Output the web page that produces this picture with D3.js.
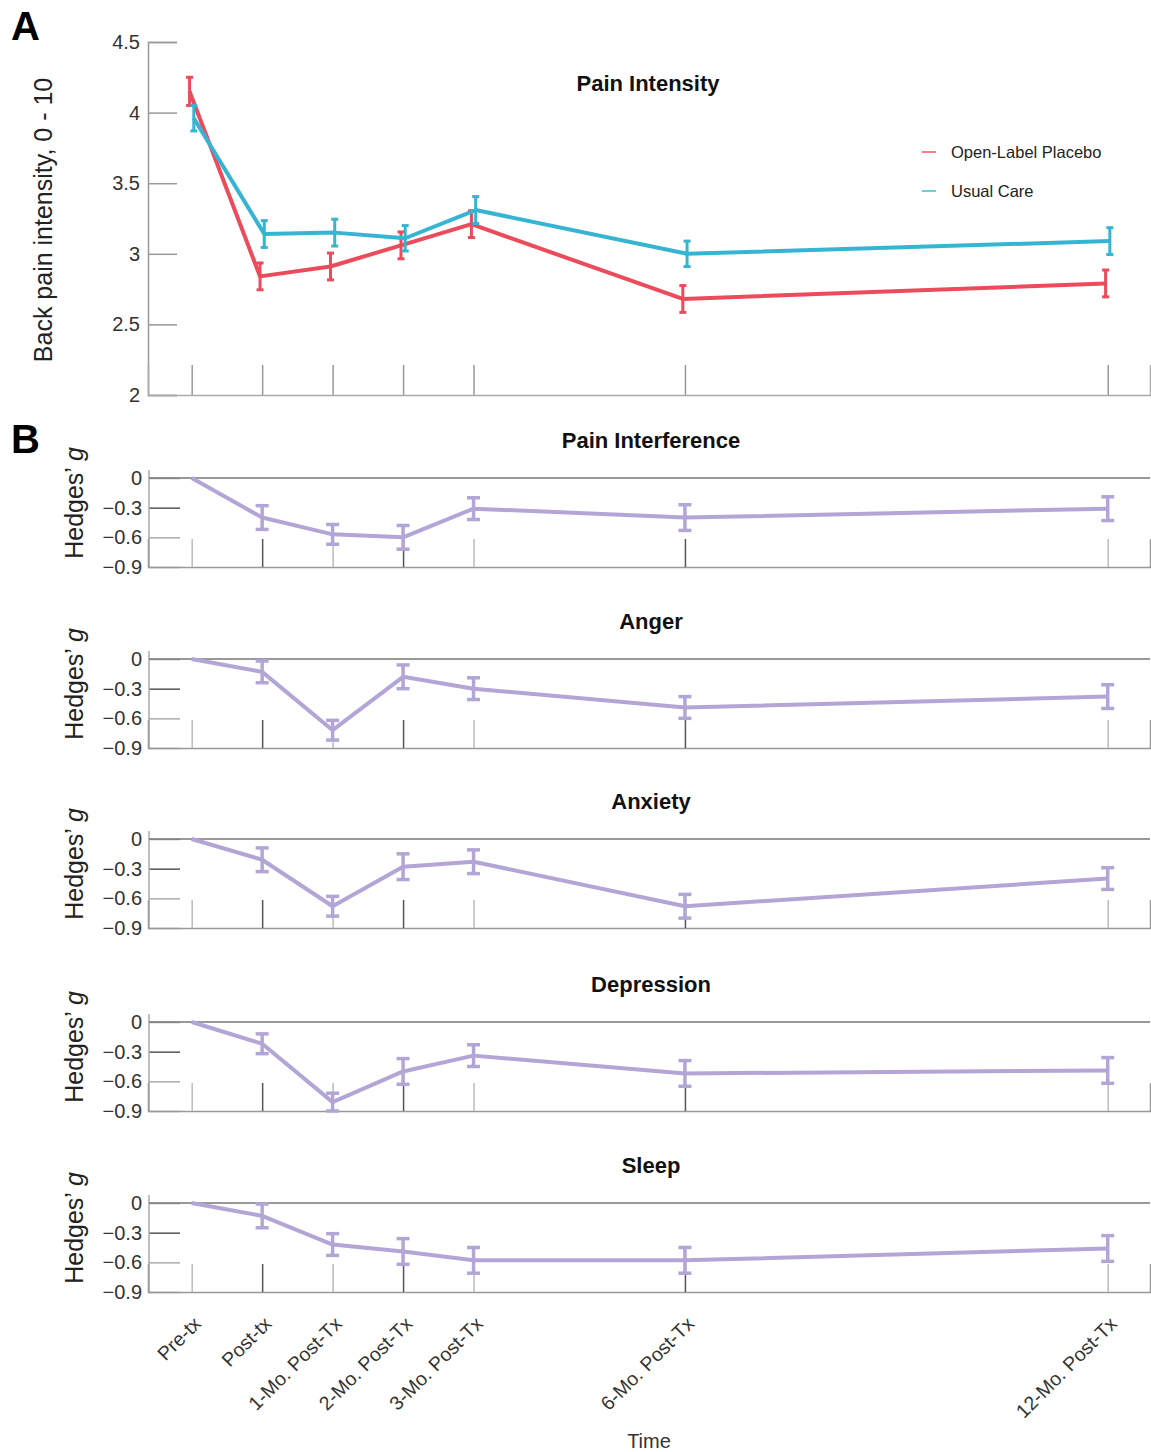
<!DOCTYPE html>
<html>
<head>
<meta charset="utf-8">
<title>Pain intensity and Hedges' g over time</title>
<script src="https://cdn.jsdelivr.net/npm/d3@7"></script>
<style>
  body { margin: 0; background: #fff; }
  svg text { font-family: "Liberation Sans", Arial, sans-serif; }
  .tick text { fill: #333; }
</style>
</head>
<body>
<svg id="chart" width="1151" height="1452"></svg>
<script>
// time points (x positions in "steps", matching the uneven spacing of the figure)
var timeLabels = ["Pre-tx", "Post-tx", "1-Mo. Post-Tx", "2-Mo. Post-Tx", "3-Mo. Post-Tx", "6-Mo. Post-Tx", "12-Mo. Post-Tx"];
var timePos = [0, 1, 2, 3, 4, 7, 13];

// panel A: back pain intensity
var seriesNames = ["Open-Label Placebo", "Usual Care"];
var olpMean = [4.15, 2.84, 2.91, 3.06, 3.21, 2.68, 2.79];
var olpErr = [0.10, 0.095, 0.095, 0.095, 0.095, 0.095, 0.095];
var ucMean = [3.96, 3.14, 3.15, 3.11, 3.31, 3.00, 3.09];
var ucErr = [0.09, 0.095, 0.095, 0.09, 0.095, 0.09, 0.095];
var painTicks = [2, 2.5, 3, 3.5, 4, 4.5];

// panel B: Hedges' g
var outcomeNames = ["Pain Interference", "Anger", "Anxiety", "Depression", "Sleep"];
var painInterference = [0, -0.40, -0.57, -0.60, -0.31, -0.40, -0.31];
var painInterferenceErr = [0, 0.12, 0.10, 0.12, 0.11, 0.13, 0.12];
var anger = [0, -0.13, -0.72, -0.18, -0.30, -0.49, -0.38];
var angerErr = [0, 0.11, 0.10, 0.12, 0.11, 0.11, 0.12];
var anxiety = [0, -0.21, -0.68, -0.28, -0.23, -0.68, -0.40];
var anxietyErr = [0, 0.12, 0.10, 0.13, 0.12, 0.12, 0.11];
var depression = [0, -0.22, -0.81, -0.50, -0.34, -0.52, -0.49];
var depressionErr = [0, 0.10, 0.09, 0.13, 0.11, 0.13, 0.13];
var sleep = [0, -0.13, -0.42, -0.49, -0.58, -0.58, -0.46];
var sleepErr = [0, 0.12, 0.11, 0.13, 0.13, 0.13, 0.13];
var gTicks = [0, -0.3, -0.6, -0.9];

var colors = ['#ec4b5c', '#36b5d2'];
var purple = '#b3a5d6';

var svg = d3.select('#chart');

var x = d3.scaleLinear().domain([-0.62, 13.6]).range([148, 1150]);

// ---------- panel A ----------
var yA = d3.scaleLinear().domain([2, 4.5]).range([395, 42]);

var gA = svg.append('g');

// y axis with inward ticks
var yAxisA = gA.append('g')
  .attr('transform', 'translate(148,0)')
  .call(d3.axisLeft(yA).tickValues(painTicks).tickSize(-29).tickPadding(8)
    .tickFormat(function(d) { return d3.format('')(d); }));
yAxisA.select('.domain').attr('stroke', '#999').attr('stroke-width', 1.5);
yAxisA.selectAll('.tick line').attr('stroke', '#999').attr('stroke-width', 1.5);
yAxisA.selectAll('.tick text').style('font-size', '20px');

var xAxisA = gA.append('g')
  .attr('transform', 'translate(0,395)')
  .call(d3.axisBottom(x).tickValues(timePos).tickSize(-30).tickFormat(''));
xAxisA.select('.domain').attr('stroke', '#aaa').attr('stroke-width', 1.5);
xAxisA.selectAll('.tick line').attr('stroke', '#999').attr('stroke-width', 1.5);

gA.append('text')
  .attr('transform', 'translate(52,220) rotate(-90)')
  .attr('text-anchor', 'middle')
  .style('font-size', '25px')
  .attr('fill', '#222')
  .text('Back pain intensity, 0 - 10');

gA.append('text')
  .attr('x', 648).attr('y', 91)
  .attr('text-anchor', 'middle')
  .style('font-size', '22px').style('font-weight', 'bold')
  .attr('fill', '#111')
  .text('Pain Intensity');

var panelA = [
  { name: seriesNames[0], mean: olpMean, err: olpErr, dodge: -0.03 },
  { name: seriesNames[1], mean: ucMean, err: ucErr, dodge: 0.03 }
];

var lineA = d3.line()
  .x(function(d) { return x(d.t); })
  .y(function(d) { return yA(d.v); });

panelA.forEach(function(s, i) {
  var pts = timePos.map(function(t, j) {
    return { t: t + s.dodge, v: s.mean[j], e: s.err[j] };
  });
  var g = gA.append('g');
  g.append('path')
    .datum(pts)
    .attr('d', lineA)
    .attr('fill', 'none')
    .attr('stroke', colors[i])
    .attr('stroke-width', 4)
    .attr('stroke-linejoin', 'round');
  var eb = g.selectAll('.eb').data(pts).enter().append('g');
  eb.append('line')
    .attr('x1', function(d) { return x(d.t); })
    .attr('x2', function(d) { return x(d.t); })
    .attr('y1', function(d) { return yA(d.v - d.e); })
    .attr('y2', function(d) { return yA(d.v + d.e); })
    .attr('stroke', colors[i]).attr('stroke-width', 3);
  [-1, 1].forEach(function(sgn) {
    eb.append('line')
      .attr('x1', function(d) { return x(d.t) - 3.5; })
      .attr('x2', function(d) { return x(d.t) + 3.5; })
      .attr('y1', function(d) { return yA(d.v + sgn * d.e); })
      .attr('y2', function(d) { return yA(d.v + sgn * d.e); })
      .attr('stroke', colors[i]).attr('stroke-width', 3);
  });
});

// legend
var legend = gA.selectAll('.legend')
  .data(seriesNames)
  .enter().append('g')
  .attr('transform', function(d, i) { return 'translate(922,' + (152 + i * 39) + ')'; });
legend.append('line')
  .attr('x1', 0).attr('x2', 14)
  .attr('stroke', function(d, i) { return colors[i]; })
  .attr('stroke-opacity', 0.7)
  .attr('stroke-width', 2);
legend.append('text')
  .attr('x', 29).attr('dy', '0.35em')
  .style('font-size', '16.5px')
  .attr('fill', '#222')
  .text(function(d) { return d; });

// ---------- panel B ----------
var outcomes = [
  { mean: painInterference, err: painInterferenceErr },
  { mean: anger, err: angerErr },
  { mean: anxiety, err: anxietyErr },
  { mean: depression, err: depressionErr },
  { mean: sleep, err: sleepErr }
];
var tops = [478, 659, 839, 1022, 1203];
var plotH = 89;

outcomes.forEach(function(o, k) {
  var top = tops[k];
  var yB = d3.scaleLinear().domain([-0.9, 0]).range([top + plotH, top]);
  var g = svg.append('g');

  g.append('text')
    .attr('x', 651).attr('y', top - 30)
    .attr('text-anchor', 'middle')
    .style('font-size', '22px').style('font-weight', 'bold')
    .attr('fill', '#111')
    .text(outcomeNames[k]);

  var hl = g.append('text')
    .attr('transform', 'translate(83,' + (top + 25) + ') rotate(-90)')
    .attr('text-anchor', 'middle')
    .style('font-size', '25px')
    .attr('fill', '#222');
  hl.append('tspan').text('Hedges\u2019 ');
  hl.append('tspan').style('font-style', 'italic').text('g');

  var ya = g.append('g')
    .attr('transform', 'translate(149,0)')
    .call(d3.axisLeft(yB).tickValues(gTicks).tickSize(-31).tickPadding(7)
      .tickFormat(function(d) { return d3.format('')(d); }));
  ya.select('.domain').remove();
  ya.selectAll('.tick line').attr('stroke', function(d) { return d === -0.3 ? '#555' : '#aaa'; })
    .attr('stroke-width', 1.5);
  ya.selectAll('.tick text').style('font-size', '20px');

  // left spine
  g.append('line')
    .attr('x1', 149).attr('x2', 149)
    .attr('y1', top - 8).attr('y2', top + plotH)
    .attr('stroke', '#aaa').attr('stroke-width', 1.5);

  var xa = g.append('g')
    .attr('transform', 'translate(0,' + (top + plotH) + ')')
    .call(d3.axisBottom(x).tickValues(timePos).tickSize(-28)
      .tickFormat(k === outcomes.length - 1 ? function(d, i) { return timeLabels[i]; } : ''));
  xa.select('.domain').attr('stroke', '#999').attr('stroke-width', 1.5);
  xa.selectAll('.tick line')
    .attr('stroke', function(d, i) { return i % 2 ? '#555' : '#bbb'; })
    .attr('stroke-width', 1.5);

  // zero reference line
  g.append('line')
    .attr('x1', 149).attr('x2', 1150)
    .attr('y1', yB(0)).attr('y2', yB(0))
    .attr('stroke', '#777').attr('stroke-width', 1.5);

  if (k === outcomes.length - 1) {
    xa.selectAll('.tick text')
      .style('font-size', '19.5px')
      .attr('fill', '#3a3a3a')
      .attr('text-anchor', 'end')
      .attr('y', 0).attr('dy', 0)
      .attr('transform', 'translate(10,33) rotate(-45)');
    g.append('text')
      .attr('x', 649).attr('y', 1448)
      .attr('text-anchor', 'middle')
      .style('font-size', '20px')
      .attr('fill', '#333')
      .text('Time');
  }

  var pts = timePos.map(function(t, j) { return { t: t, v: o.mean[j], e: o.err[j] }; });
  var line = d3.line()
    .x(function(d) { return x(d.t); })
    .y(function(d) { return yB(d.v); });
  g.append('path')
    .datum(pts)
    .attr('d', line)
    .attr('fill', 'none')
    .attr('stroke', purple)
    .attr('stroke-width', 4)
    .attr('stroke-linejoin', 'round');

  var ebData = pts.filter(function(d) { return d.e > 0; });
  var eb = g.selectAll('.eb').data(ebData).enter().append('g');
  eb.append('line')
    .attr('x1', function(d) { return x(d.t); })
    .attr('x2', function(d) { return x(d.t); })
    .attr('y1', function(d) { return yB(d.v - d.e); })
    .attr('y2', function(d) { return yB(d.v + d.e); })
    .attr('stroke', purple).attr('stroke-width', 3.5);
  [-1, 1].forEach(function(sgn) {
    eb.append('line')
      .attr('x1', function(d) { return x(d.t) - 6.5; })
      .attr('x2', function(d) { return x(d.t) + 6.5; })
      .attr('y1', function(d) { return yB(d.v + sgn * d.e); })
      .attr('y2', function(d) { return yB(d.v + sgn * d.e); })
      .attr('stroke', purple).attr('stroke-width', 3.5);
  });
});

// panel letters
svg.append('text').attr('x', 11).attr('y', 40)
  .style('font-size', '40px').style('font-weight', 'bold')
  .attr('fill', '#000')
  .text('A');
svg.append('text').attr('x', 11).attr('y', 453)
  .style('font-size', '40px').style('font-weight', 'bold')
  .attr('fill', '#000')
  .text('B');
</script>
</body>
</html>
